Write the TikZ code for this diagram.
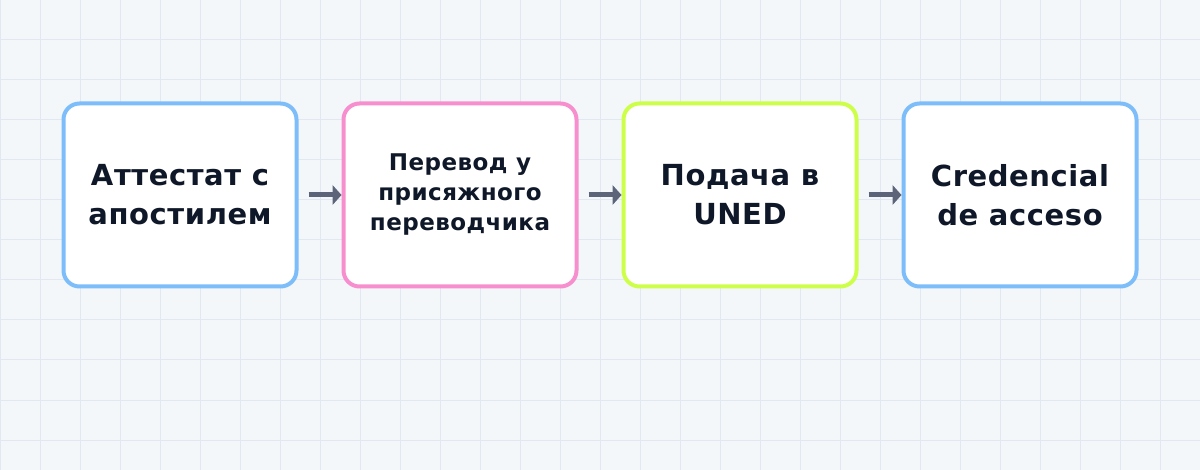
\documentclass[tikz,border=0pt]{standalone}
\usepackage{fontspec}
\setmainfont{DejaVu Sans}
\newfontfamily\spaced[LetterSpace=2]{DejaVu Sans}
\usepackage{xcolor}
\usepackage{tikz}
\usetikzlibrary{arrows.meta}
\usetikzlibrary{positioning}
\definecolor{paper}{HTML}{F4F7FA}
\definecolor{gridc}{HTML}{E2E8F2}
\definecolor{ink}{HTML}{0F1828}
\definecolor{pipe}{HTML}{5B6479}
\definecolor{cblue}{HTML}{7DBDF9}
\definecolor{cpink}{HTML}{F78FCE}
\definecolor{clime}{HTML}{CDFF4A}
\tikzstyle{stage}=[draw,rectangle,align=center,fill=white,text=ink,line width=4pt,
rounded corners=16pt,minimum width=233pt,minimum height=183pt,inner sep=0pt,
font=\spaced\bfseries\fontsize{29}{39}\selectfont]
\tikzstyle{small}=[font=\spaced\bfseries\fontsize{23}{30}\selectfont]
\tikzstyle{flow}=[draw,pipe,line width=5pt,shorten <=10pt,
-{Triangle[length=9pt,width=20pt,line width=0pt]}]

\begin{document}
\begin{tikzpicture}[x=1pt,y=-1pt]
\useasboundingbox (0,0) rectangle (1200,470);
\fill[paper] (0,0) rectangle (1200,470);
\foreach \gx in {0,40,...,1200} \draw[gridc,line width=1pt] (\gx,0) -- (\gx,470);
\foreach \gy in {0,40,...,440} \draw[gridc,line width=1pt] (0,\gy) -- (1200,\gy);

	\node[stage,draw=cblue] (attest) at (180,195) {Аттестат с\\апостилем};
	\node[stage,small,draw=cpink] (transl) at (460,195) {Перевод у\\присяжного\\переводчика};
	\node[stage,draw=clime] (uned) at (740,195) {Подача в\\UNED};
	\node[stage,draw=cblue] (cred) at (1020,195) {Credencial\\de acceso};

	\path[flow] (attest) -- (transl);
	\path[flow] (transl) -- (uned);
	\path[flow] (uned) -- (cred);
\end{tikzpicture}
\end{document}
